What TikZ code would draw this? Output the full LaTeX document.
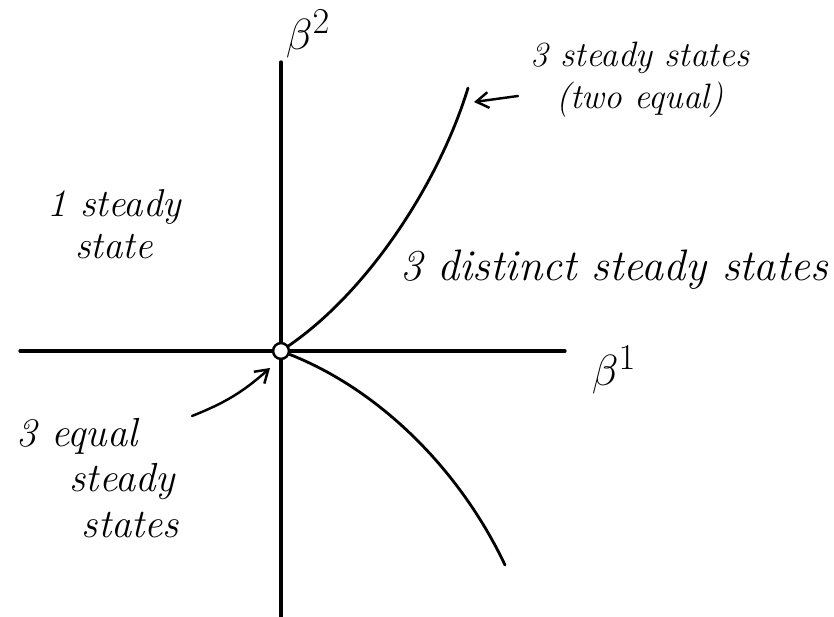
\documentclass[tikz,border=0pt]{standalone}
\usetikzlibrary{arrows.meta}

\begin{document}
\begin{tikzpicture}[
  x=0.02cm, y=-0.02cm,
  axis/.style   ={line width=1.9pt, line cap=round},
  branch/.style ={line width=1.6pt, line cap=round},
  pointer/.style={-{Straight Barb[length=7pt, width=9pt, line width=1.4pt]}, line width=1.4pt, line cap=round},
  region/.style ={inner sep=0pt, align=center, font=\fontsize{20bp}{24bp}\selectfont\itshape},
  param/.style  ={inner sep=0pt, font=\fontsize{28bp}{30bp}\selectfont},
]
\useasboundingbox (0,0) rectangle (834,617);

% ---- axes, pixel grid of the scan (origin near 281,351)
\coordinate (ytop)   at (281,62);
\coordinate (ybot)   at (281,617);
\coordinate (xleft)  at (20,351);
\coordinate (xright) at (565,351);
\draw[axis] (ybot) -- (ytop);
\draw[axis] (xleft) -- (xright);
\node[draw, circle, line width=1.4pt, fill=white, minimum size=9pt, inner sep=0pt] (orig) at (281,351) {};

\node[param] (b2) at (308,34)  {$\beta^2$};
\node[param] (b1) at (614,370) {$\beta^1$};

% ---- the two branches of the cusp
\coordinate (upEnd)  at (468,88);
\coordinate (lowEnd) at (505,565);
\draw[branch] (orig) .. controls (370,290) and (440,180) .. (upEnd);
\draw[branch] (orig) .. controls (380,390) and (460,470) .. (lowEnd);

% ---- region labels
\node[region, font=\fontsize{22bp}{24bp}\selectfont\itshape] (oneSS) at (114,224) {1 steady\\state};
\node[region, font=\fontsize{25bp}{26bp}\selectfont\itshape] (distSS) at (614,270) {3 distinct steady states};
\node[region] (twoEq) at (640,80) {3 steady states\\(two equal)};
\node[region, font=\fontsize{23bp}{26bp}\selectfont\itshape, align=left] (threeEq) at (98,478)
  {3 equal\\\hspace*{1.3em}steady\\\hspace*{1.6em}states};

% ---- pointers
\coordinate (tailA) at (518,96);
\coordinate (tipA)  at (474,102);
\draw[pointer] (tailA) -- (tipA);
\coordinate (tailB) at (192,416);
\coordinate (tipB)  at (270,368);
\draw[pointer] (tailB) to[bend right=10] (tipB);
\end{tikzpicture}
\end{document}
